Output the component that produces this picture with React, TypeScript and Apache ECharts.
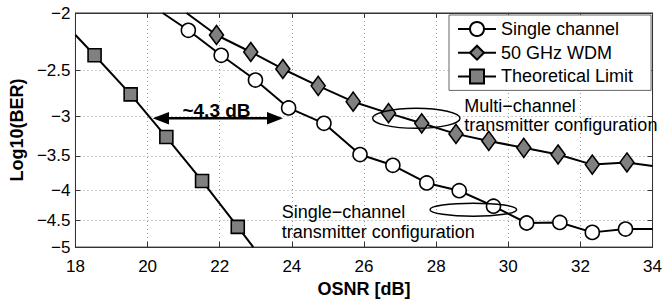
import React, { useEffect, useRef } from "react";
import * as echarts from "echarts";

// ---- data (OSNR in dB, Log10(BER)) ----
const xTicks = [18, 20, 22, 24, 26, 28, 30, 32, 34];
const yTickLabels = [-2, -2.5, -3, -3.5, -4, -4.5, -5];

// first and last points of each curve are line-only extensions (no marker)
const singleOsnr = [20.42, 21.13, 22.04, 22.99, 23.91, 24.89, 25.89, 26.8, 27.74, 28.64, 29.59, 30.51, 31.43, 32.33, 33.25, 34];
const singleBer = [-2.0, -2.14, -2.36, -2.6, -2.9, -3.08, -3.48, -3.63, -3.89, -4.01, -4.26, -4.55, -4.54, -4.72, -4.66, -4.66];

const wdmOsnr = [21.08, 21.91, 22.86, 23.75, 24.73, 25.7, 26.68, 27.6, 28.55, 29.46, 30.43, 31.38, 32.33, 33.29, 34];
const wdmBer = [-2.0, -2.18, -2.33, -2.49, -2.66, -2.83, -2.96, -3.08, -3.21, -3.3, -3.39, -3.48, -3.62, -3.59, -3.64];

const theoOsnr = [18, 18.53, 19.53, 20.52, 21.51, 22.5, 22.93];
const theoBer = [-2.18, -2.36, -2.75, -3.25, -3.86, -4.62, -5.0];

const seriesNames = ["Single channel", "50 GHz WDM", "Theoretical Limit"];

const FONT = '"Liberation Sans", Arial, Helvetica, sans-serif';

// the y axis is drawn on a log(-log10 BER) scale
const toY = (b: number) => Math.log10(-b);

function buildData(xs: number[], ys: number[]) {
  return xs.map((x, i) => {
    const item: any = { value: [x, toY(ys[i])] };
    if (i === 0 || i === xs.length - 1) item.symbol = "none";
    return item;
  });
}

function fmtY(v: number) {
  const b = Math.round(-Math.pow(10, v) * 10) / 10;
  return String(b).replace("-", "\u2212");
}

export default function App() {
  const ref = useRef<HTMLDivElement>(null);

  useEffect(() => {
    if (!ref.current) return;
    const chart = echarts.init(ref.current, undefined, { renderer: "svg" });
    const yMin = toY(-2);
    const yMax = toY(-5);
    const yCustom = yTickLabels.map(toY);
    const gridLine = { show: true, lineStyle: { color: "#9a9a9a", type: [1, 3] as any, width: 1 } };
    const lineStyle = { color: "#000", width: 2 };

    const option: any = {
      animation: false,
      backgroundColor: "#fff",
      textStyle: { fontFamily: FONT },
      grid: {
        left: 73,
        right: 11,
        top: 13,
        bottom: 47,
        show: true,
        borderColor: "#333",
        borderWidth: 1,
        backgroundColor: "transparent",
      },
      legend: {
        orient: "vertical",
        left: 449,
        top: 15,
        padding: [5, 18, 5, 8],
        itemGap: 5.7,
        itemWidth: 38,
        itemHeight: 17.5,
        backgroundColor: "#fff",
        borderColor: "#666",
        borderWidth: 1,
        textStyle: { fontSize: 18, color: "#000", fontFamily: FONT, lineHeight: 18 },
        data: seriesNames,
        z: 10,
      },
      xAxis: [
        {
          type: "value",
          min: 18,
          max: 34,
          interval: 2,
          position: "bottom",
          name: "OSNR [dB]",
          nameLocation: "middle",
          nameGap: 23,
          nameTextStyle: { fontSize: 18, fontWeight: "bold", color: "#000", fontFamily: FONT },
          axisLine: { show: true, lineStyle: { color: "#333" } },
          axisTick: { show: true, inside: true, length: 5, lineStyle: { color: "#333" } },
          axisLabel: {
            fontSize: 17,
            color: "#000",
            margin: 11,
            fontFamily: FONT,
            formatter: (v: number) => (xTicks.includes(v) ? String(v) : ""),
          },
          splitLine: gridLine,
        },
        {
          type: "value",
          min: 18,
          max: 34,
          interval: 2,
          position: "top",
          axisLine: { show: true, lineStyle: { color: "#333" } },
          axisTick: { show: true, inside: true, length: 5, lineStyle: { color: "#333" } },
          axisLabel: { show: false },
          splitLine: { show: false },
        },
      ],
      yAxis: [
        {
          type: "value",
          min: yMin,
          max: yMax,
          inverse: true,
          position: "left",
          name: "Log10(BER)",
          nameLocation: "middle",
          nameRotate: 90,
          nameGap: 46,
          nameTextStyle: { fontSize: 18, fontWeight: "bold", color: "#000", fontFamily: FONT },
          axisLine: { show: true, lineStyle: { color: "#333" } },
          axisTick: { show: true, inside: true, length: 5, customValues: yCustom, lineStyle: { color: "#333" } },
          axisLabel: {
            customValues: yCustom,
            fontSize: 17,
            color: "#000",
            margin: 5,
            fontFamily: FONT,
            showMinLabel: true,
            showMaxLabel: true,
            formatter: (v: number) => fmtY(v),
          },
          splitLine: gridLine,
        },
        {
          type: "value",
          min: yMin,
          max: yMax,
          inverse: true,
          position: "right",
          axisLine: { show: true, lineStyle: { color: "#333" } },
          axisTick: { show: true, inside: true, length: 5, customValues: yCustom, lineStyle: { color: "#333" } },
          axisLabel: { show: false, customValues: yCustom },
          splitLine: { show: false },
        },
      ],
      series: [
        {
          name: seriesNames[0],
          type: "line",
          data: buildData(singleOsnr, singleBer),
          symbol: "circle",
          symbolSize: 14,
          showAllSymbol: true,
          lineStyle,
          itemStyle: { color: "#fff", borderColor: "#000", borderWidth: 1.6 },
          z: 4,
        },
        {
          name: seriesNames[1],
          type: "line",
          data: buildData(wdmOsnr, wdmBer),
          symbol: "diamond",
          symbolSize: [14, 19],
          showAllSymbol: true,
          lineStyle,
          itemStyle: { color: "#808080", borderColor: "#000", borderWidth: 1.6 },
          z: 3,
        },
        {
          name: seriesNames[2],
          type: "line",
          data: buildData(theoOsnr, theoBer),
          symbol: "rect",
          symbolSize: 13,
          showAllSymbol: true,
          lineStyle,
          itemStyle: { color: "#808080", borderColor: "#000", borderWidth: 1.6 },
          z: 3,
        },
      ],
      graphic: [
        // double-headed arrow
        { type: "line", shape: { x1: 166, y1: 118.3, x2: 270, y2: 118.3 }, style: { stroke: "#000", lineWidth: 2.5 }, z: 20 },
        { type: "polygon", shape: { points: [[152.7, 118.3], [169, 112], [169, 124.6]] }, style: { fill: "#000" }, z: 20 },
        { type: "polygon", shape: { points: [[283, 118.3], [267, 112], [267, 124.6]] }, style: { fill: "#000" }, z: 20 },
        {
          type: "text",
          x: 216.5,
          y: 110,
          style: { text: "~4.3 dB", fill: "#000", font: `bold 19px ${FONT}`, align: "center", verticalAlign: "middle" },
          z: 20,
        },
        // ellipses
        { type: "ellipse", shape: { cx: 416.3, cy: 118.3, rx: 43.7, ry: 10 }, style: { fill: "none", stroke: "#000", lineWidth: 1.5 }, z: 20 },
        { type: "ellipse", shape: { cx: 473.3, cy: 209.7, rx: 43.3, ry: 6.5 }, style: { fill: "none", stroke: "#000", lineWidth: 1.5 }, z: 20 },
        // annotation texts
        {
          type: "text",
          x: 464.3,
          y: 106,
          style: { text: "Multi\u2212channel", fill: "#000", font: `18px ${FONT}`, align: "left", verticalAlign: "middle" },
          z: 20,
        },
        {
          type: "text",
          x: 464.3,
          y: 125,
          style: { text: "transmitter configuration", fill: "#000", font: `18px ${FONT}`, align: "left", verticalAlign: "middle" },
          z: 20,
        },
        {
          type: "text",
          x: 281.7,
          y: 212,
          style: { text: "Single\u2212channel", fill: "#000", font: `18px ${FONT}`, align: "left", verticalAlign: "middle" },
          z: 20,
        },
        {
          type: "text",
          x: 281.7,
          y: 232,
          style: { text: "transmitter configuration", fill: "#000", font: `18px ${FONT}`, align: "left", verticalAlign: "middle" },
          z: 20,
        },
      ],
    };
    chart.setOption(option);
    return () => chart.dispose();
  }, []);

  return <div ref={ref} style={{ position: "fixed", left: 0, top: 0, width: 665, height: 303 }} />;
}
